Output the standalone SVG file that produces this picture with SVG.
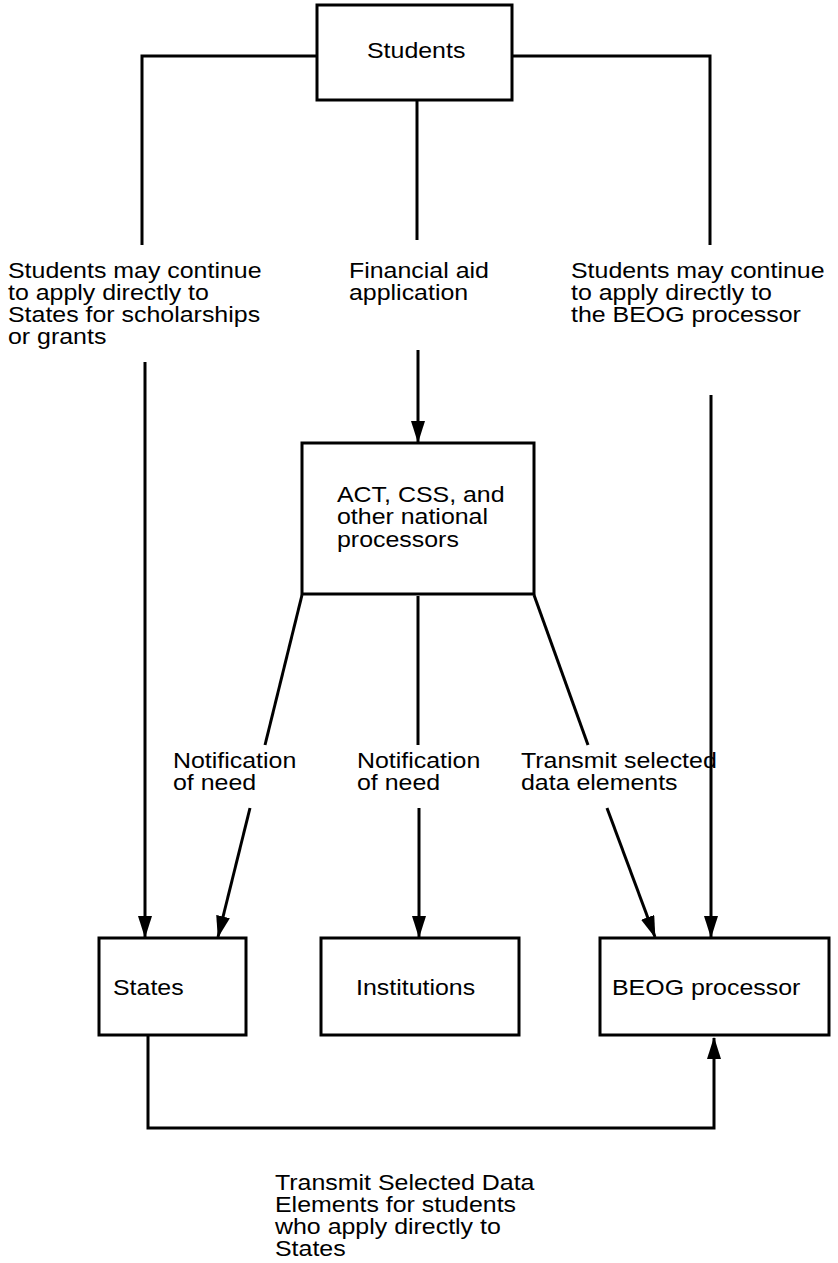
<svg xmlns="http://www.w3.org/2000/svg" width="838" height="1263" viewBox="0 0 838 1263">
<defs>
<style>
.box{fill:#fff;stroke:#000;stroke-width:3}
.ln{fill:none;stroke:#000;stroke-width:3}
.t{font-family:"Liberation Sans",Arial,Helvetica,sans-serif;font-size:21.5px;fill:#000}
</style>
<marker id="ah" markerUnits="userSpaceOnUse" markerWidth="22" markerHeight="14" refX="21" refY="7" orient="auto">
<path d="M0,0 L22,7 L0,14 z" fill="#000"/>
</marker>
</defs>
<rect width="838" height="1263" fill="#fff"/>
<g id="connectors">
<path class="ln" d="M317,56 H142 V245"/>
<path class="ln" d="M512,56 H710 V245"/>
<path class="ln" d="M417,100 V240"/>
<path class="ln" d="M145,362 V937" marker-end="url(#ah)"/>
<path class="ln" d="M418,350 V442" marker-end="url(#ah)"/>
<path class="ln" d="M711,395 V937" marker-end="url(#ah)"/>
<path class="ln" d="M302,595 L265,745"/>
<path class="ln" d="M250,808 L218,937" marker-end="url(#ah)"/>
<path class="ln" d="M418,596 V745"/>
<path class="ln" d="M419,808 V937" marker-end="url(#ah)"/>
<path class="ln" d="M534,595 L588,745"/>
<path class="ln" d="M607,808 L655,937" marker-end="url(#ah)"/>
<path class="ln" d="M148,1036 V1128 H714 V1038" marker-end="url(#ah)"/>
</g>
<g id="students">
<rect class="box" x="317" y="5" width="195" height="95"/>
<text class="t" transform="translate(367,58) scale(1.16,1)">Students</text>
</g>
<g id="act">
<rect class="box" x="302" y="443" width="232" height="151"/>
<text class="t" transform="translate(337,502) scale(1.16,1)"><tspan x="0" y="0">ACT, CSS, and</tspan><tspan x="0" y="22.5">other national</tspan><tspan x="0" y="45">processors</tspan></text>
</g>
<g id="states">
<rect class="box" x="99" y="938" width="147" height="97"/>
<text class="t" transform="translate(113,995) scale(1.16,1)">States</text>
</g>
<g id="institutions">
<rect class="box" x="321" y="938" width="198" height="97"/>
<text class="t" transform="translate(356,995) scale(1.16,1)">Institutions</text>
</g>
<g id="beog">
<rect class="box" x="600" y="938" width="229" height="97"/>
<text class="t" transform="translate(612,995) scale(1.16,1)">BEOG processor</text>
</g>
<g id="labels">
<text class="t" transform="translate(8,278) scale(1.16,1)"><tspan x="0" y="0">Students may continue</tspan><tspan x="0" y="22">to apply directly to</tspan><tspan x="0" y="44">States for scholarships</tspan><tspan x="0" y="66">or grants</tspan></text>
<text class="t" transform="translate(349,278) scale(1.16,1)"><tspan x="0" y="0">Financial aid</tspan><tspan x="0" y="22">application</tspan></text>
<text class="t" transform="translate(571,278) scale(1.16,1)"><tspan x="0" y="0">Students may continue</tspan><tspan x="0" y="22">to apply directly to</tspan><tspan x="0" y="44">the BEOG processor</tspan></text>
<text class="t" transform="translate(173,768) scale(1.16,1)"><tspan x="0" y="0">Notification</tspan><tspan x="0" y="22">of need</tspan></text>
<text class="t" transform="translate(357,768) scale(1.16,1)"><tspan x="0" y="0">Notification</tspan><tspan x="0" y="22">of need</tspan></text>
<text class="t" transform="translate(521,768) scale(1.16,1)"><tspan x="0" y="0">Transmit selected</tspan><tspan x="0" y="22">data elements</tspan></text>
<text class="t" transform="translate(275,1190) scale(1.16,1)"><tspan x="0" y="0">Transmit Selected Data</tspan><tspan x="0" y="22">Elements for students</tspan><tspan x="0" y="44">who apply directly to</tspan><tspan x="0" y="66">States</tspan></text>
</g>
</svg>
